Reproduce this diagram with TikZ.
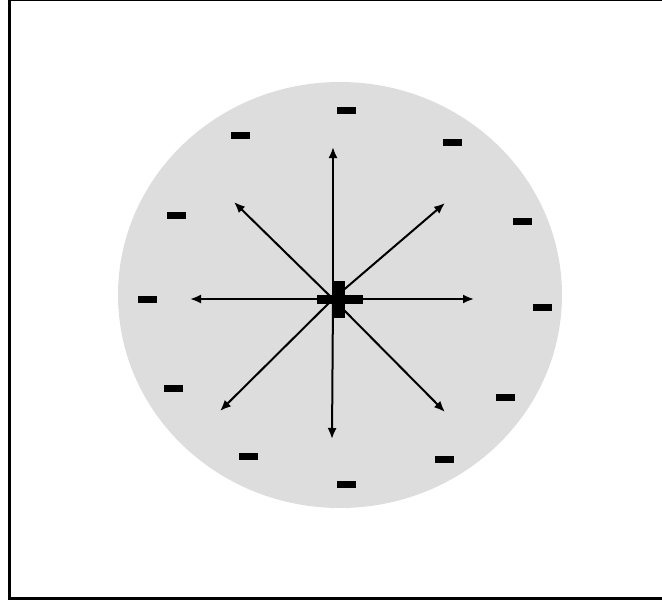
\documentclass[tikz,border=0pt]{standalone}
\usetikzlibrary{arrows.meta}
\definecolor{cloud}{HTML}{DDDDDD}
\tikzset{
  minus/.style={fill=black, minimum width=19pt, minimum height=7pt, inner sep=0pt},
  field/.style={-{Latex[length=11pt,width=9pt]}, line width=2pt}
}
\begin{document}
\begin{tikzpicture}[x=1pt,y=-1pt]
\useasboundingbox (0,0) rectangle (662,603);
\begin{scope}
\clip (0,0) rectangle (662,603);
\draw[line width=3pt] (9.5,-0.5) rectangle (666,598.5);
\end{scope}

% charged sphere
\fill[cloud] (340,295) ellipse [x radius=222pt, y radius=213pt];

% negative charges
\node[minus] (m1) at (346,110) {};
\node[minus] (m2) at (240,135) {};
\node[minus] (m3) at (452,142) {};
\node[minus] (m4) at (176,215) {};
\node[minus] (m5) at (522,221) {};
\node[minus] (m6) at (147,299) {};
\node[minus] (m7) at (542,307) {};
\node[minus] (m8) at (173,388) {};
\node[minus] (m9) at (505,397) {};
\node[minus] (m10) at (248,456) {};
\node[minus] (m11) at (444,459) {};
\node[minus] (m12) at (346,484) {};

% field lines
\coordinate (o) at (333,299);
\coordinate (up) at (333,147);
\coordinate (down) at (332,439);
\coordinate (left) at (190,299);
\coordinate (right) at (474,299);
\coordinate (ul) at (234,202);
\coordinate (ur) at (445,203);
\coordinate (dl) at (220,411);
\coordinate (dr) at (445,412);

\draw[field] (o) -- (up);
\draw[field] (o) -- (down);
\draw[field] (o) -- (left);
\draw[field] (o) -- (right);
\draw[field] (o) -- (ul);
\draw[field] (o) -- (ur);
\draw[field] (o) -- (dl);
\draw[field] (o) -- (dr);

% positive charge
\fill (317,295) rectangle (363,304);
\fill (332,281) rectangle (345,318);
\end{tikzpicture}
\end{document}
